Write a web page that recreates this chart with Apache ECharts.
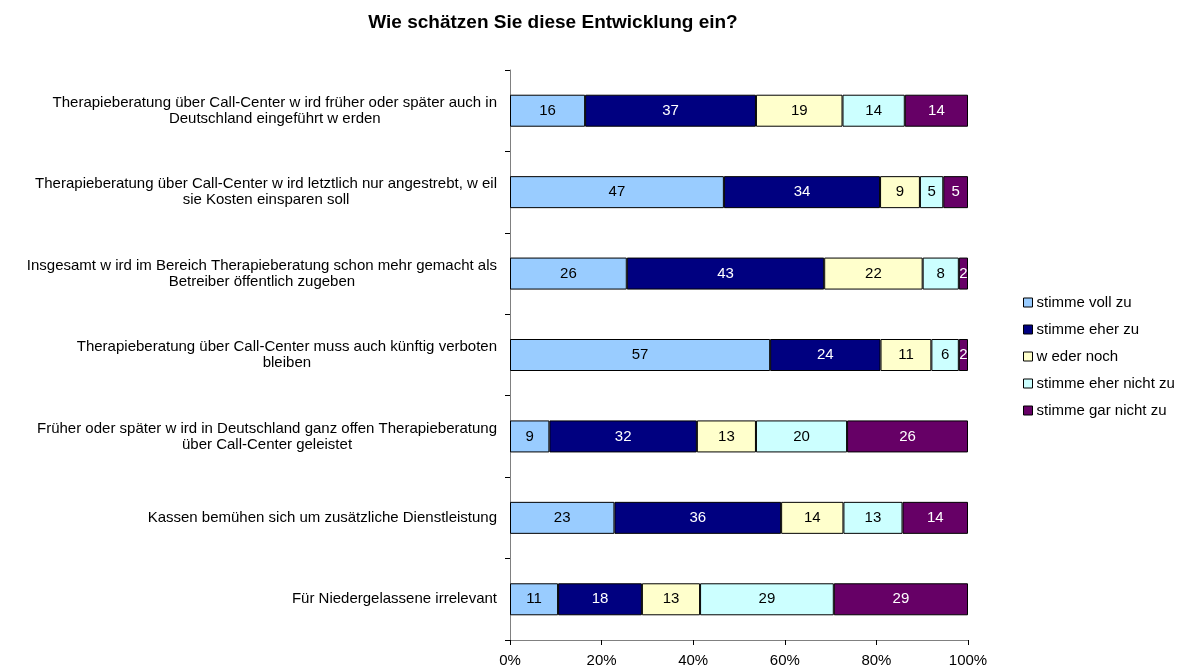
<!DOCTYPE html>
<html>
<head>
<meta charset="utf-8">
<script src="https://cdn.jsdelivr.net/npm/echarts@6/dist/echarts.min.js"></script>
<style>
html, body { margin: 0; padding: 0; background: #fff; }
#main { width: 1185px; height: 670px; }
</style>
</head>
<body>
<div id="main"></div>
<script>
// Aussagen (von oben nach unten)
var statements = [
    'Therapieberatung über Call-Center w ird früher oder später auch in\nDeutschland eingeführt w erden',
    'Therapieberatung über Call-Center w ird letztlich nur angestrebt, w eil\nsie Kosten einsparen soll',
    'Insgesamt w ird im Bereich Therapieberatung schon mehr gemacht als\nBetreiber öffentlich zugeben',
    'Therapieberatung über Call-Center muss auch künftig verboten\nbleiben',
    'Früher oder später w ird in Deutschland ganz offen Therapieberatung\nüber Call-Center geleistet',
    'Kassen bemühen sich um zusätzliche Dienstleistung',
    'Für Niedergelassene irrelevant'
];

var answers = ['stimme voll zu', 'stimme eher zu', 'w eder noch', 'stimme eher nicht zu', 'stimme gar nicht zu'];

// Anteile in % (Label = gerundeter Wert)
var vollZu    = [16.4, 46.7, 25.5, 56.8, 8.6, 22.8, 10.5];
var eherZu    = [37.3, 34.1, 43.1, 24.1, 32.2, 36.4, 18.3];
var wederNoch = [18.9, 8.7, 21.5, 11.1, 12.9, 13.6, 12.7];
var eherNicht = [13.6, 5.1, 7.9, 6.0, 19.9, 12.9, 29.2];
var garNicht  = [13.8, 5.4, 2.0, 2.0, 26.4, 14.3, 29.3];

var colors = ['#99CCFF', '#000080', '#FFFFCC', '#CCFFFF', '#660066'];
var labelColors = ['#000', '#fff', '#000', '#000', '#fff'];

var font = 'Liberation Sans, Arial, sans-serif';

var seriesData = [vollZu, eherZu, wederNoch, eherNicht, garNicht];
var series = [];
for (var i = 0; i < answers.length; i++) {
    series.push({
        name: answers[i],
        type: 'bar',
        stack: 'total',
        barWidth: 32,
        data: seriesData[i],
        itemStyle: {
            color: colors[i],
            borderColor: '#000',
            borderWidth: 1
        },
        label: {
            show: true,
            position: 'inside',
            color: labelColors[i],
            fontFamily: font,
            fontSize: 15,
            formatter: function (p) {
                return Math.round(p.value);
            }
        }
    });
}

var chart = echarts.init(document.getElementById('main'));
chart.setOption({
    animation: false,
    title: {
        text: 'Wie schätzen Sie diese Entwicklung ein?',
        left: 548,
        textAlign: 'center',
        top: 8,
        textStyle: {
            fontFamily: font,
            fontSize: 19,
            fontWeight: 'bold',
            color: '#000'
        }
    },
    legend: {
        orient: 'vertical',
        left: 1018,
        top: 290,
        itemWidth: 9,
        itemHeight: 9,
        itemGap: 12,
        icon: 'rect',
        itemStyle: {
            borderColor: '#000',
            borderWidth: 1
        },
        textStyle: {
            fontFamily: font,
            fontSize: 15,
            color: '#000',
            padding: [0, 0, 0, -1]
        },
        data: answers
    },
    grid: {
        left: 510,
        right: 217,
        top: 70,
        bottom: 30
    },
    xAxis: {
        type: 'value',
        min: 0,
        max: 100,
        interval: 20,
        splitLine: { show: false },
        axisLine: { show: true, lineStyle: { color: '#808080', width: 1 } },
        axisTick: { show: true, length: 5, lineStyle: { color: '#000' } },
        axisLabel: {
            formatter: '{value}%',
            margin: 13,
            fontFamily: font,
            fontSize: 15,
            color: '#000'
        }
    },
    yAxis: {
        type: 'category',
        inverse: true,
        data: statements,
        axisLine: { show: true, lineStyle: { color: '#808080', width: 1 } },
        axisTick: { show: true, length: 5, lineStyle: { color: '#000' } },
        axisLabel: {
            margin: 13,
            fontFamily: font,
            fontSize: 15,
            color: '#000',
            formatter: function (v) {
                return v.split('\n').map(function (s) { return '{c|' + s + '}'; }).join('\n');
            },
            rich: {
                c: {
                    align: 'center',
                    fontFamily: font,
                    fontSize: 15,
                    color: '#000',
                    lineHeight: 16
                }
            }
        }
    },
    series: series
});
</script>
</body>
</html>
